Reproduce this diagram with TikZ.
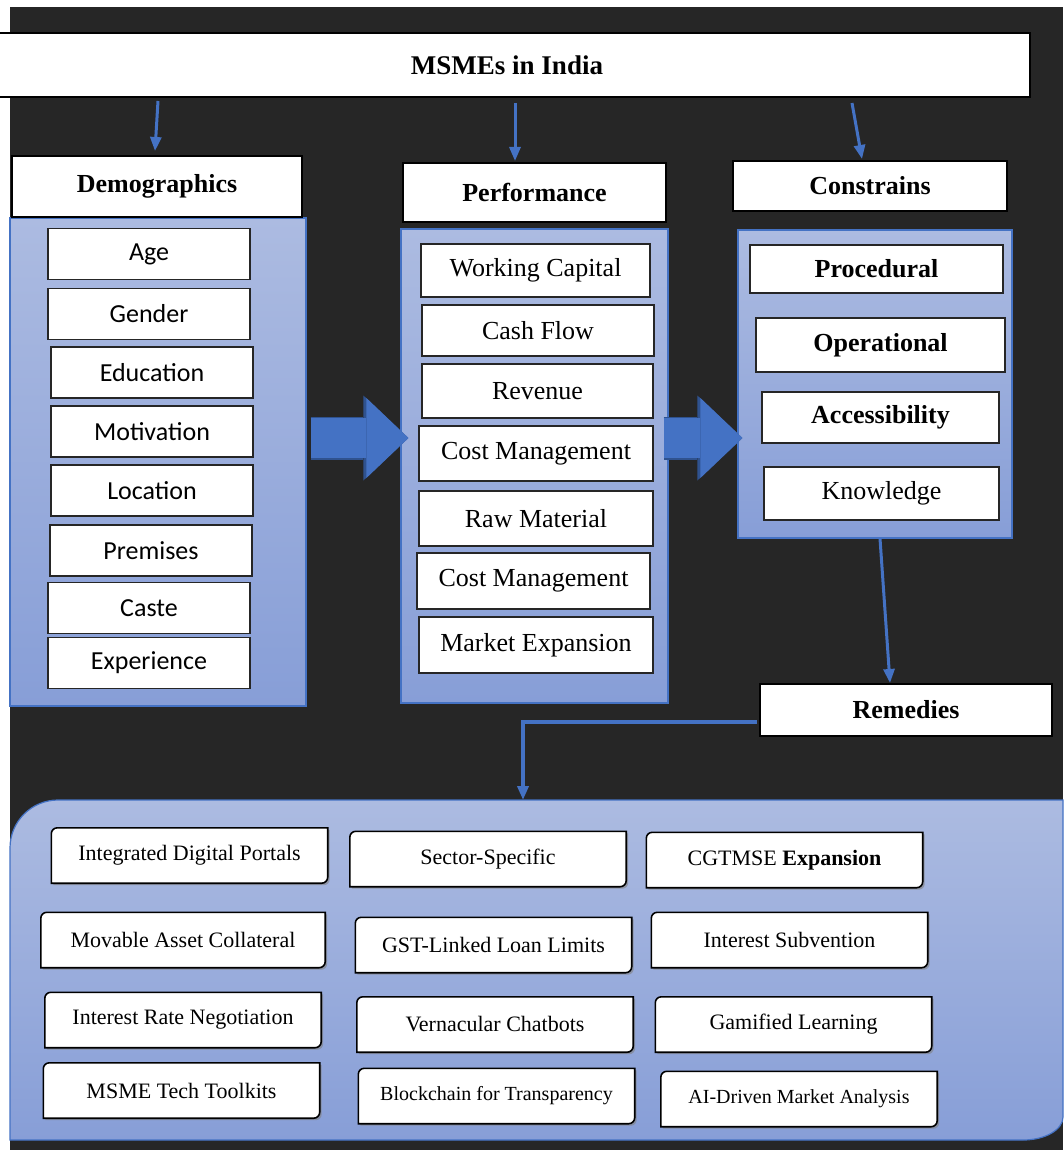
\documentclass[tikz,border=0pt]{standalone}
\usepackage{fontspec}
\setmainfont{Liberation Serif}
\newfontfamily\itemsans{Carlito}
\usepackage{tikz}
\usetikzlibrary{calc}
\usetikzlibrary{backgrounds}
\usetikzlibrary{shadows}
\usetikzlibrary {arrows.meta}
\definecolor{bgdark}{RGB}{38,38,38}
\definecolor{arrowblue}{RGB}{68,114,196}
\definecolor{arrowedge}{RGB}{47,82,143}
\definecolor{panelTop}{RGB}{172,187,225}
\definecolor{panelBot}{RGB}{135,158,215}

\begin{document}
\begin{tikzpicture}[x=1pt,y=-1pt,
        title/.style={draw=black, line width=2pt, fill=white, inner sep=0pt,
              font=\fontsize{27}{32}\selectfont\bfseries},
        head/.style={draw=black, line width=2pt, fill=white, inner sep=0pt,
              font=\fontsize{26}{31}\selectfont\bfseries},
        panel/.style={draw=arrowblue, line width=1.2pt, top color=panelTop,
              bottom color=panelBot, inner sep=0pt},
        demo/.style={draw=black!85, line width=1.5pt, fill=white, inner sep=0pt,
              minimum width=202pt, minimum height=51pt,
              font=\itemsans\fontsize{26}{31}\selectfont},
        perf/.style={draw=black!85, line width=1.5pt, fill=white, inner sep=0pt,
              font=\fontsize{26}{31}\selectfont},
        cons/.style={perf, font=\fontsize{26}{31}\selectfont\bfseries},
        rem/.style={inner sep=0pt, minimum width=#1, minimum height=55pt,
              font=\fontsize{22}{26}\selectfont},
        rem/.default=276pt,
        remline/.style={draw=black, line width=1.6pt, fill=white,
              drop shadow={shadow xshift=2pt, shadow yshift=-2pt, opacity=.6}},
        link/.style={draw=arrowblue, line width=3pt, -{Triangle[length=14pt,width=11pt]}},
        bigarrow/.style={draw=arrowblue, line width=40pt,
              -{Triangle[length=42pt,width=80pt,line width=0pt]},
              preaction={draw=arrowedge, line width=43pt,
              -{Triangle[length=45pt,width=85pt,line width=0pt]}}},
    ]
    \useasboundingbox (0,0) rectangle (1063,1150);
    \begin{scope}[on background layer]
    % Background
    \fill[bgdark] (10,7) rectangle (1063,1150);
    % Remedies panel
    \draw[draw=arrowblue, line width=1.2pt, top color=panelTop, bottom color=panelBot]
        (10,1140) -- (10,848) arc[start angle=180,end angle=90,radius=48pt]
        -- (1063,800) -- (1063,1117) arc[start angle=0,end angle=-90,x radius=40pt,y radius=23pt]
        -- cycle;
    \end{scope}
    \coordinate (remtop) at (523,800);

    % Title
    \node[title, minimum width=1046pt, minimum height=64pt] (msme) at (507,65) {MSMEs in India};

    % Panels
    \node[panel, minimum width=296pt, minimum height=488pt] (demopanel) at (158,462) {};
    \node[panel, minimum width=267pt, minimum height=474pt] (perfpanel) at (534.5,466) {};
    \node[panel, minimum width=274pt, minimum height=308pt] (conpanel) at (875,384) {};

    % Headers
    \node[head, minimum width=290pt, minimum height=61pt] (demohead) at (157,186.5) {Demographics};
    \node[head, minimum width=263pt, minimum height=59pt] (perfhead) at (534.5,192.5) {Performance};
    \node[head, minimum width=274pt, minimum height=50pt] (conhead) at (870,186) {Constrains};
    \node[head, minimum width=292pt, minimum height=52pt] (remhead) at (906,710) {Remedies};

    % Demographics
    \node[demo] (age) at (149,254) {Age};
    \node[demo] (gender) at (149,314) {Gender};
    \node[demo] (education) at (152,372.5) {Education};
    \node[demo] (motivation) at (152,431.5) {Motivation};
    \node[demo] (location) at (152,490.5) {Location};
    \node[demo] (premises) at (151,550.5) {Premises};
    \node[demo] (caste) at (149,608) {Caste};
    \node[demo] (experience) at (149,663) {Experience};

    % Performance
    \node[perf, minimum width=229pt, minimum height=53pt] (capital) at (535.5,270.5) {Working Capital};
    \node[perf, minimum width=232pt, minimum height=51pt] (cashflow) at (538,330.5) {Cash Flow};
    \node[perf, minimum width=231pt, minimum height=54pt] (revenue) at (537.5,391) {Revenue};
    \node[perf, minimum width=234pt, minimum height=55pt] (costone) at (536,453.5) {Cost Management};
    \node[perf, minimum width=234pt, minimum height=55pt] (rawmat) at (536,518.5) {Raw Material};
    \node[perf, minimum width=233pt, minimum height=56pt] (costtwo) at (533.5,581) {Cost Management};
    \node[perf, minimum width=234pt, minimum height=56pt] (market) at (536,645) {Market Expansion};

    % Constrains
    \node[cons, minimum width=253pt, minimum height=48pt] (procedural) at (876.5,269) {Procedural};
    \node[cons, minimum width=249pt, minimum height=54pt] (operational) at (880.5,345) {Operational};
    \node[cons, minimum width=237pt, minimum height=51pt] (access) at (880.5,417.5) {Accessibility};
    \node[perf, minimum width=235pt, minimum height=53pt] (knowledge) at (881.5,493.5) {Knowledge};

    % Remedies
    \node[rem] (portals) at (189.5,855.5) {Integrated Digital Portals};
    \node[rem] (sector) at (488,859) {Sector-Specific};
    \node[rem] (cgtmse) at (784.5,860) {CGTMSE \textbf{Expansion}};
    \node[rem=284pt] (movable) at (183,940) {Movable Asset Collateral};
    \node[rem] (gst) at (493.5,945) {GST-Linked Loan Limits};
    \node[rem] (subvention) at (789.5,940) {Interest Subvention};
    \node[rem] (negotiation) at (183,1020) {Interest Rate Negotiation};
    \node[rem] (chatbots) at (495,1024.5) {Vernacular Chatbots};
    \node[rem] (gamified) at (793.5,1024.5) {Gamified Learning};
    \node[rem] (toolkits) at (181.5,1090.5) {MSME Tech Toolkits};
    \node[rem, font=\fontsize{20}{24}\selectfont] (blockchain) at (496.5,1096) {Blockchain for Transparency};
    \node[rem, font=\fontsize{20}{24}\selectfont] (aidriven) at (799,1099) {AI-Driven Market Analysis};
    \begin{scope}[on background layer]
    \foreach \n in {portals,sector,cgtmse,movable,gst,subvention,negotiation,chatbots,gamified,toolkits,blockchain,aidriven}
        \draw[remline] ([xshift=6pt]\n.north west) -- (\n.north east) -- ([yshift=6pt]\n.south east)
            arc[start angle=0,end angle=-90,radius=6pt] -- (\n.south west) -- ([yshift=-6pt]\n.north west)
            arc[start angle=180,end angle=90,radius=6pt] -- cycle;
    \end{scope}

    % Title to headers
    \draw[link] ($(msme.south -| demohead.north)+(1,3)$) -- ($(demohead.north)+(-2,-4)$);
    \draw[link] ($(msme.south -| perfhead.north)+(-19.5,5)$) -- ($(perfhead.north)+(-19.5,-1)$);
    \draw[link] ($(msme.south -| conhead.north)+(-18,5)$) -- ($(conhead.north)+(-8,-1)$);
    % Block arrows
    \draw[bigarrow] ($(demopanel.east)+(4,-24)$) -- ($(perfpanel.west)+(8,-28)$);
    \draw[bigarrow] ($(perfpanel.east)+(-5,-28)$) -- ($(conpanel.west)+(5,54)$);
    % Constrains to Remedies
    \draw[link] ($(conpanel.south)+(5,0)$) -- ($(remhead.north)+(-16,0)$);
    \draw[link, line width=3.5pt] ($(remhead.west)+(-2,12)$) -| (remtop);
\end{tikzpicture}
\end{document}
